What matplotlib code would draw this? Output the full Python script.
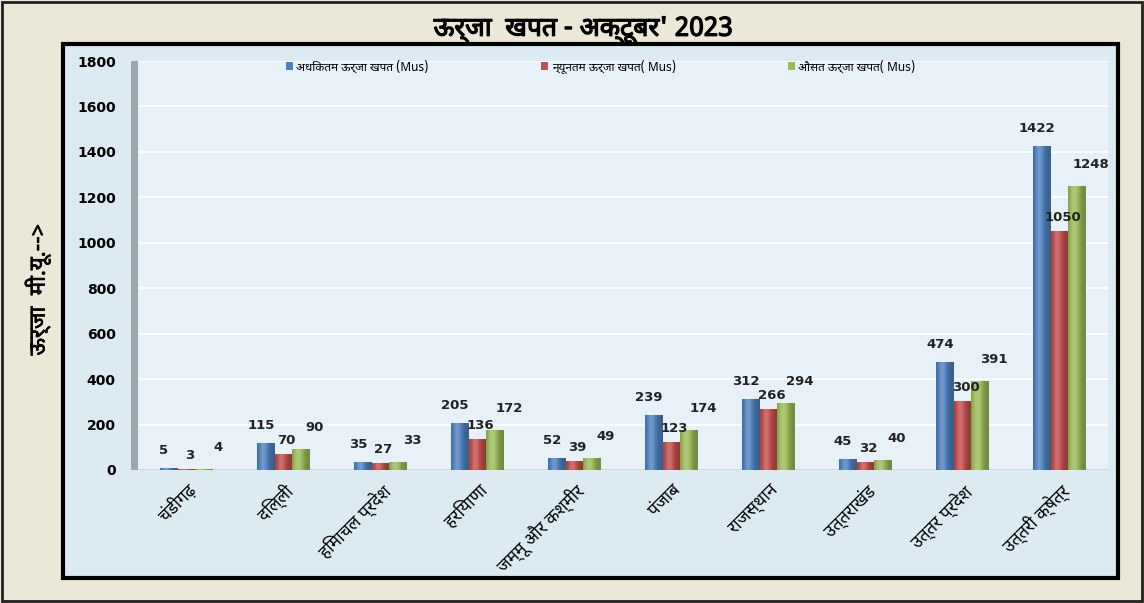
import numpy as np
import matplotlib
matplotlib.use("Agg")
import matplotlib.pyplot as plt
import matplotlib.patheffects as pe
from matplotlib.patches import Rectangle
from matplotlib.colors import to_rgb
from matplotlib import font_manager

# Devanagari-capable families first, DejaVu as fallback for digits/latin
fams = [f.name for f in font_manager.fontManager.ttflist]
deva = [n for n in ["Noto Sans Devanagari", "Lohit Devanagari", "Mangal", "FreeSans",
                    "Nirmala UI", "Kalimati", "Gargi"] if n in fams]
plt.rcParams["font.family"] = deva + ["DejaVu Sans"]

states = ["चंडीगढ़", "दिल्ली", "हिमाचल प्रदेश", "हरियाणा", "जम्मू और कश्मीर",
          "पंजाब", "राजस्थान", "उत्तराखंड", "उत्तर प्रदेश", "उत्तरी क्षेत्र"]
max_use = [5, 115, 35, 205, 52, 239, 312, 45, 474, 1422]
min_use = [3, 70, 27, 136, 39, 123, 266, 32, 300, 1050]
avg_use = [4, 90, 33, 172, 49, 174, 294, 40, 391, 1248]
series_names = ["अधिकतम ऊर्जा खपत (Mus)", "न्यूनतम ऊर्जा खपत( Mus)", "औसत ऊर्जा खपत( Mus)"]
colors = ["#4F81BD", "#C0504D", "#9BBB59"]
yticks = [0, 200, 400, 600, 800, 1000, 1200, 1400, 1600, 1800]

# label nudges (pixels) per series: x shift, height above bar top
lbl_dx = [-5, 3, 14]
lbl_dy = [18, 14, 22]


def shade(base, n=48):
    """cylinder-like horizontal gradient for one bar"""
    t = np.linspace(0, 1, n)
    b = 0.74 + 0.42 * np.exp(-((t - 0.35) / 0.3) ** 2)
    c = np.array(to_rgb(base))
    out = np.empty((1, n, 3))
    for k, v in enumerate(b):
        out[0, k] = c * v if v <= 1 else c + (1 - c) * (v - 1) * 1.2
    return np.clip(out, 0, 1)


fig = plt.figure(figsize=(11.44, 6.03), dpi=100)
fig.patch.set_facecolor("#ECE8D7")
# outer frame
fig.add_artist(Rectangle((0.002, 0.003), 0.996, 0.994, transform=fig.transFigure,
                         fill=False, ec="#222222", lw=2))
# inner chart panel
fig.add_artist(Rectangle((0.055, 0.0415), 0.922, 0.886, transform=fig.transFigure,
                         fc="#DCEBF2", ec="black", lw=3, zorder=0))

ax = fig.add_axes([0.1206, 0.2206, 0.848, 0.6782])
ax.set_facecolor("#E8F0F8")
x = np.arange(len(states))
w = 0.18
data = [max_use, min_use, avg_use]
for i, vals in enumerate(data):
    pos = x + (i - 1) * w
    bars = ax.bar(pos, vals, w, color=colors[i], lw=0, label=series_names[i], zorder=3)
    grad = shade(colors[i])
    for b, v in zip(bars, vals):
        x0 = b.get_x()
        ax.imshow(grad, extent=[x0, x0 + w, 0, v], aspect="auto", zorder=3.5,
                  interpolation="bilinear")
        ax.annotate(str(v), (x0 + w / 2, v), xytext=(lbl_dx[i], lbl_dy[i]),
                    textcoords="offset pixels", ha="center", va="center",
                    fontsize=9.5, fontweight="bold", color="#222222",
                    family="DejaVu Sans", zorder=4)

ax.set_xlim(-0.5, len(states) - 0.5)
ax.set_ylim(0, 1800)
ax.set_yticks(yticks)
ax.set_yticklabels([str(t) for t in yticks], fontsize=10, fontweight="bold",
                   family="DejaVu Sans")
ax.grid(axis="y", color="white", lw=1.2, zorder=1)
ax.set_axisbelow(True)
ax.set_xticks(x)
ax.set_xticklabels(states, rotation=45, ha="right", rotation_mode="anchor",
                   fontsize=12.5)
ax.tick_params(axis="y", length=0, pad=16)
ax.tick_params(axis="x", length=0, pad=8)
for s in ax.spines.values():
    s.set_visible(False)
# 3D side wall and floor
ax.add_patch(Rectangle((-0.57, 0), 0.07, 1800, fc="#9FA7AE", ec="none",
                       clip_on=False, zorder=2))
ax.axhline(0, color="#C9D3DB", lw=2, zorder=2)

ax.legend(loc="upper center", ncol=3, frameon=False, fontsize=8.5,
          handlelength=0.6, handleheight=0.6, handletextpad=0.3, columnspacing=9.5,
          bbox_to_anchor=(0.477, 1.03))

bold = [pe.withStroke(linewidth=0.9, foreground="black")]
fig.text(0.51, 0.952, "ऊर्जा  खपत - अक्टूबर' 2023", ha="center", va="center",
         fontsize=19, path_effects=bold)
fig.text(0.033, 0.52, "ऊर्जा  मी.यू.-->", ha="center", va="center", rotation=90,
         fontsize=16, path_effects=[pe.withStroke(linewidth=0.5, foreground="black")])

fig.savefig("out.png", dpi=100, facecolor=fig.get_facecolor())
